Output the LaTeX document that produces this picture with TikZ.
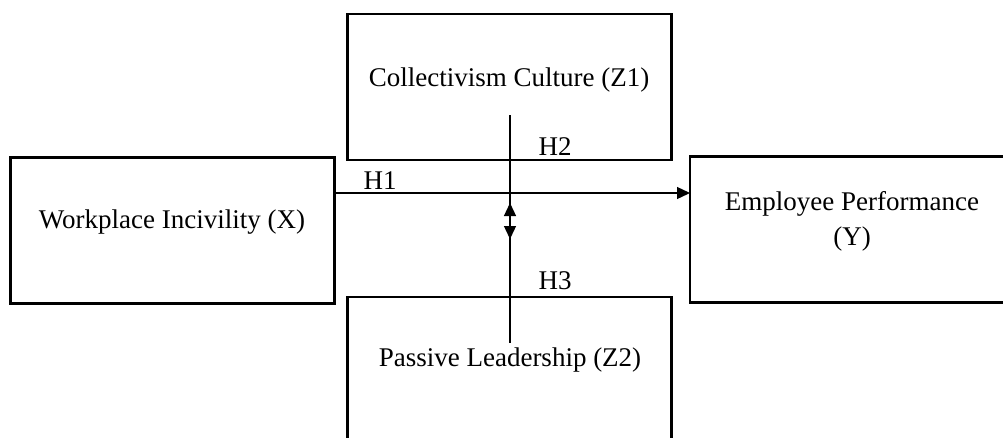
\documentclass[tikz,border=0pt]{standalone}
\usepackage{fontspec}
\setmainfont{Liberation Serif}
\usetikzlibrary{arrows.meta}
\begin{document}
\begin{tikzpicture}[x=1pt,y=-1pt,
  box/.style={draw=black,line width=2.6pt,minimum width=324pt,minimum height=146pt,inner sep=0pt,outer sep=0pt},
  lbl/.style={font=\fontsize{27}{35}\selectfont,inner sep=0pt,align=center},
  conn/.style={line width=1.3pt,draw=black},
  tip/.style={-{Triangle[length=13pt,width=12pt]}}
]
\useasboundingbox (0,0) rectangle (1003,437);
\clip (0,0) rectangle (1003,437);
% boxes
\node[box] (x) at (172.5,230.5) {};
\node[box] (z1) at (509.5,87) {};
\node[box] (yb) at (852,229.5) {};
\node[box] (z2) at (509.5,370) {};
% texts
\node[lbl] (tx) at (172,222) {Workplace Incivility (X)};
\node[lbl] (tz1) at (509,80) {Collectivism Culture (Z1)};
\node[lbl] (ty) at (852,221) {Employee Performance\\(Y)};
\node[lbl] (tz2) at (510,360) {Passive Leadership (Z2)};
% H1 connector
\coordinate (h1) at (0,193);
\draw[conn,tip] (x.east |- h1) -- (yb.west |- h1);
% vertical moderator line
\coordinate (v1) at (510,115);
\coordinate (v2) at (510,343);
\draw[conn] (v1) -- (v2);
\coordinate (a1) at (510,203);
\coordinate (a2) at (510,239);
\draw[conn,{Triangle[length=13pt,width=12pt]}-{Triangle[length=13pt,width=12pt]}] (a1) -- (a2);
% hypothesis labels
\node[lbl] (lh1) at (380,181) {H1};
\node[lbl] (lh2) at (555,147) {H2};
\node[lbl] (lh3) at (555,281) {H3};
\end{tikzpicture}
\end{document}
